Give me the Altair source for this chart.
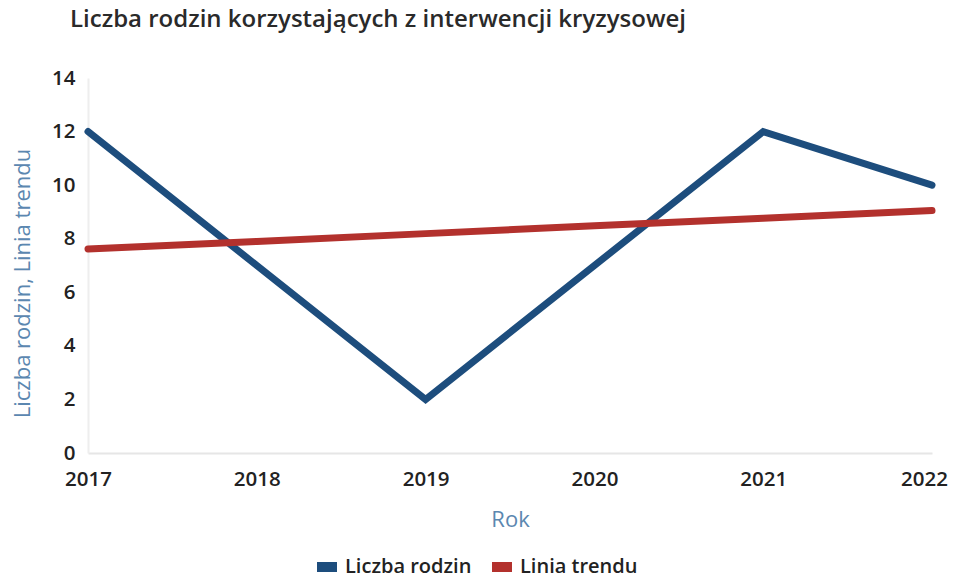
import altair as alt
import pandas as pd

years = [2017, 2018, 2019, 2020, 2021, 2022]
liczba_rodzin = [12, 7, 2, 7, 12, 10]
linia_trendu = [7.62, 7.90, 8.19, 8.48, 8.76, 9.05]
series_names = ["Liczba rodzin", "Linia trendu"]
series_colors = ["#1d4d7d", "#b3312d"]

rows = []
for y, a, b in zip(years, liczba_rodzin, linia_trendu):
    rows.append({"Rok": y, "seria": series_names[0], "v": a})
    rows.append({"Rok": y, "seria": series_names[1], "v": b})
df = pd.DataFrame(rows)

FONT = "Open Sans"

chart = alt.Chart(df).mark_line(strokeWidth=7, strokeCap="round").encode(
    x=alt.X("Rok:Q",
            scale=alt.Scale(domain=[2017, 2022], nice=False, zero=False),
            axis=alt.Axis(values=years, format="d", title="Rok", grid=False,
                          ticks=False, domainColor="#e6e6e6", domainWidth=2,
                          labelFontSize=20.5, labelColor="#222222", labelPadding=16,
                          labelFontWeight=600, labelFlush=False,
                          labelOffset=alt.ExprRef("datum.value == 2022 ? -8 : 0"),
                          labelFont=FONT, titleFont=FONT, titleFontSize=22,
                          titleFontWeight="normal", titleColor="#5b87b0",
                          titlePadding=20)),
    y=alt.Y("v:Q",
            scale=alt.Scale(domain=[0, 14], nice=False),
            axis=alt.Axis(values=[0, 2, 4, 6, 8, 10, 12, 14], title="Liczba rodzin, Linia trendu",
                          grid=False, ticks=False, domainColor="#eeeeee", domainWidth=2,
                          labelFontSize=20.5, labelColor="#222222", labelPadding=13,
                          labelFontWeight=600, labelFlush=False,
                          labelFont=FONT, titleFont=FONT, titleFontSize=22,
                          titleFontWeight="normal", titleColor="#5b87b0",
                          titlePadding=17, titleY=205)),
    color=alt.Color("seria:N",
                    scale=alt.Scale(domain=series_names, range=series_colors),
                    legend=alt.Legend(title=None, orient="none", direction="horizontal",
                                      legendX=224, legendY=474,
                                      symbolType="stroke",
                                      symbolSize=400, symbolStrokeWidth=10,
                                      labelFontSize=20, labelFont=FONT,
                                      labelFontWeight=600, labelOffset=3,
                                      labelColor="#222222", columnPadding=0,
                                      symbolOffset=0)),
).properties(
    width=844,
    height=375,
    title=alt.Title("Liczba rodzin korzystających z interwencji kryzysowej",
                    anchor="start", frame="group", fontSize=24, font=FONT,
                    fontWeight=600, color="#2a2a2a", dx=-18, offset=36),
    autosize=alt.AutoSizeParams(type="none"),
    padding={"left": 80, "top": 70, "right": 16, "bottom": 120},
).configure_view(stroke=None)

chart.save("out.html", embed_options={"renderer": "svg", "actions": False})
